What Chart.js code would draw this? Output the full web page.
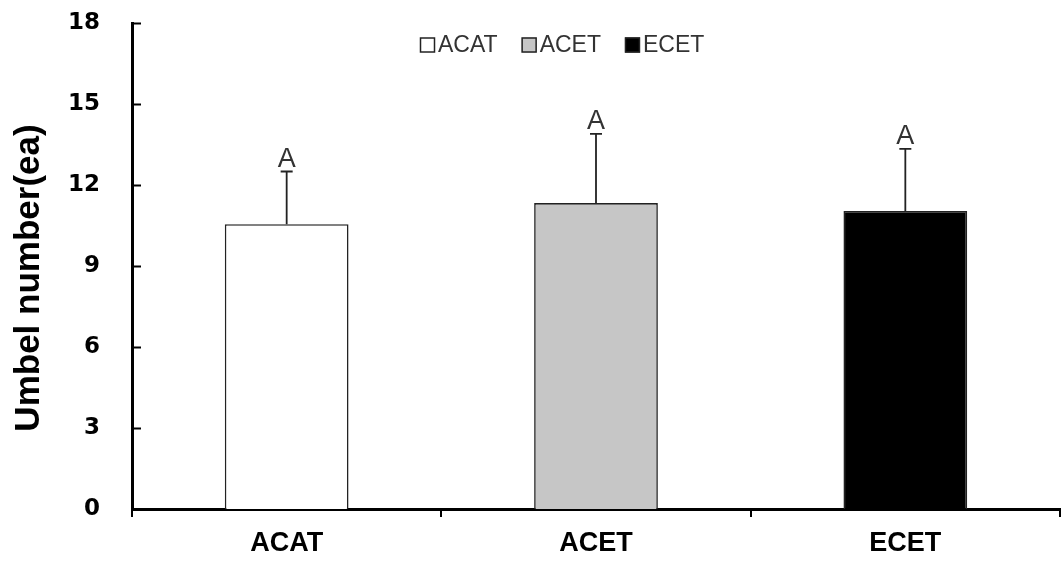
<!DOCTYPE html>
<html>
<head>
<meta charset="utf-8">
<title>Umbel number</title>
<script src="https://cdn.jsdelivr.net/npm/chart.js@4.4.1/dist/chart.umd.min.js"></script>
<style>
  html, body { margin: 0; padding: 0; background: #ffffff; }
  #wrap { width: 1062px; height: 564px; }
</style>
</head>
<body>
<div id="wrap"><canvas id="chart" width="1062" height="564"></canvas></div>
<script>
// Treatments and measured umbel counts (mean and standard deviation)
const categories = ['ACAT', 'ACET', 'ECET'];
const means = [10.55, 11.33, 11.04];
const errors = [1.95, 2.56, 2.30];
const letters = ['A', 'A', 'A'];
const barColors = ['#ffffff', '#c6c6c6', '#000000'];
const yTicks = { min: 0, max: 18, step: 3 };
const yAxisTitle = 'Umbel number(ea)';

// Mean ± SD whiskers with significance letters above each bar
const errorBarPlugin = {
  id: 'errorBars',
  afterDatasetsDraw(chart) {
    const ctx = chart.ctx;
    const meta = chart.getDatasetMeta(0);
    const y = chart.scales.y;
    ctx.save();
    ctx.strokeStyle = '#222222';
    ctx.lineWidth = 1.8;
    meta.data.forEach((bar, i) => {
      const x = bar.x;
      const yTop = y.getPixelForValue(means[i]);
      const yCap = y.getPixelForValue(means[i] + errors[i]);
      ctx.beginPath();
      ctx.moveTo(x, yTop);
      ctx.lineTo(x, yCap);
      ctx.moveTo(x - 6, yCap);
      ctx.lineTo(x + 6, yCap);
      ctx.stroke();
      ctx.fillStyle = '#333333';
      ctx.font = '27px "Liberation Sans", Arial, sans-serif';
      ctx.textAlign = 'center';
      ctx.textBaseline = 'alphabetic';
      ctx.fillText(letters[i], x, yCap - 5);
    });
    ctx.restore();
  }
};

// Inward tick marks on the value axis and the rotated axis title
const valueAxisPlugin = {
  id: 'valueAxisExtras',
  afterDraw(chart) {
    const ctx = chart.ctx;
    const y = chart.scales.y;
    const area = chart.chartArea;
    ctx.save();
    ctx.strokeStyle = '#000000';
    ctx.lineWidth = 2;
    y.ticks.forEach(t => {
      const py = Math.round(y.getPixelForValue(t.value)) + 0.5;
      ctx.beginPath();
      ctx.moveTo(area.left, py);
      ctx.lineTo(area.left + 9, py);
      ctx.stroke();
    });
    ctx.translate(29, (area.top + area.bottom) / 2 + 12);
    ctx.rotate(-Math.PI / 2);
    ctx.fillStyle = '#000000';
    ctx.font = 'bold 35px "Liberation Sans", Arial, sans-serif';
    ctx.textAlign = 'center';
    ctx.textBaseline = 'middle';
    ctx.fillText(yAxisTitle, 0, 0);
    ctx.restore();
  }
};

// Legend row of small swatches inside the plot
const swatchLegendPlugin = {
  id: 'swatchLegend',
  afterDraw(chart) {
    const ctx = chart.ctx;
    const area = chart.chartArea;
    const box = 15;
    const cy = area.top + 22;
    let x = area.left + 288;
    ctx.save();
    ctx.font = '23px "Liberation Sans", Arial, sans-serif';
    ctx.textBaseline = 'middle';
    ctx.textAlign = 'left';
    categories.forEach((name, i) => {
      ctx.fillStyle = barColors[i];
      ctx.fillRect(x, cy - box / 2, box, box);
      ctx.strokeStyle = '#222222';
      ctx.lineWidth = 1.5;
      ctx.strokeRect(x + 0.5, cy - box / 2 + 0.5, box - 1, box - 1);
      ctx.fillStyle = '#333333';
      ctx.fillText(name, x + box + 3, cy + 1);
      x += box + 3 + ctx.measureText(name).width + 24;
    });
    ctx.restore();
  }
};

new Chart(document.getElementById('chart'), {
  type: 'bar',
  data: {
    labels: categories,
    datasets: [{
      label: yAxisTitle,
      data: means,
      backgroundColor: barColors,
      borderColor: '#222222',
      borderWidth: 1.6,
      barPercentage: 0.4,
      categoryPercentage: 1.0
    }]
  },
  options: {
    responsive: false,
    animation: false,
    layout: { padding: { top: 23, right: 2, left: 0, bottom: 0 } },
    plugins: {
      legend: { display: false },
      title: { display: false },
      tooltip: { enabled: false }
    },
    scales: {
      x: {
        offset: true,
        grid: {
          offset: true,
          drawOnChartArea: false,
          drawTicks: true,
          tickLength: 8,
          color: '#000000',
          lineWidth: 2
        },
        border: { display: true, color: '#000000', width: 3 },
        ticks: {
          color: '#000000',
          padding: 10,
          maxRotation: 0,
          font: { family: '"Liberation Sans", Arial, sans-serif', size: 27, weight: 'bold' }
        },
        afterFit(scale) {
          scale.height = 55;
          scale.paddingLeft = 0;
          scale.paddingRight = 0;
        }
      },
      y: {
        min: yTicks.min,
        max: yTicks.max,
        grid: { display: false, drawTicks: false },
        border: { display: true, color: '#000000', width: 3 },
        ticks: {
          stepSize: yTicks.step,
          color: '#000000',
          padding: 32,
          font: { family: '"DejaVu Sans", Verdana, sans-serif', size: 23, weight: 'bold' }
        },
        title: { display: false },
        afterFit(scale) {
          scale.width = 132;
          scale.paddingTop = 0;
          scale.paddingBottom = 0;
        }
      }
    }
  },
  plugins: [errorBarPlugin, valueAxisPlugin, swatchLegendPlugin]
});
</script>
</body>
</html>
